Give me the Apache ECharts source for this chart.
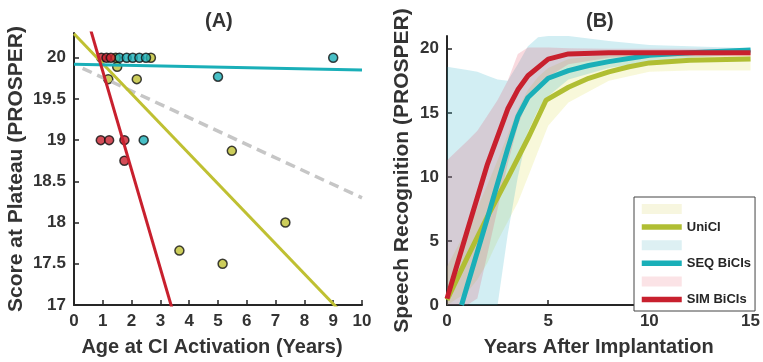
<!DOCTYPE html>
<html><head><meta charset="utf-8">
<script src="https://cdn.jsdelivr.net/npm/echarts@6/dist/echarts.min.js"></script>
<style>html,body{margin:0;padding:0;background:#fff}#c{width:763px;height:362px}</style>
</head><body><div id="c"></div>
<script>
// ---------- Panel A: scatter data ----------
const uniAge   = [1.45, 1.5, 2.67, 1.19, 2.18, 5.48, 3.66, 5.16, 7.34];
const uniScore = [20, 19.89, 20, 19.74, 19.74, 18.87, 17.66, 17.5, 18.0];
const seqAge   = [1.58, 1.83, 2.04, 2.27, 2.5, 5.0, 9.0, 2.42];
const seqScore = [20, 20, 20, 20, 20, 19.77, 20, 19.0];
const simAge   = [0.95, 1.13, 1.28, 0.93, 1.22, 1.75, 1.75];
const simScore = [20, 20, 20, 19, 19, 19, 18.75];
// regression fits (intercept, slope, x range)
const fitIntercepts = [20.29, 19.92, 21.03, 19.92];
const fitSlopes     = [-0.364, -0.007, -1.196, -0.162];
const fitStart      = [0, 0, 0, 0.3];
const fitEnd        = [10, 10, 10, 10];
const ticksAY = [17, 17.5, 18, 18.5, 19, 19.5, 20];

// ---------- Panel B: mean trajectories ----------
const uniX = [0, 1, 2, 3, 4, 4.9, 6, 7, 8, 9, 10, 12, 15];
const uniY = [0.4, 3.7, 6.9, 9.9, 13, 16, 17, 17.7, 18.2, 18.6, 18.9, 19.1, 19.2];
const seqX = [0.72, 1, 2, 3, 3.5, 4, 5, 6, 7, 8, 10, 12, 15];
const seqY = [0, 1.5, 6.8, 12.2, 14.7, 16.2, 17.7, 18.3, 18.7, 19.0, 19.5, 19.7, 19.9];
const simX = [0, 1, 2, 3, 3.5, 4, 5, 6, 8, 15];
const simY = [0.5, 5.8, 11, 15.3, 16.8, 17.9, 19.2, 19.6, 19.7, 19.7];
// bands
const bandX  = [0, 1, 1.5, 2, 2.5, 3, 3.5, 4, 4.5, 5, 6, 8, 10, 12, 15];
const uniLo  = [0, 1, 2, 3.3, 5, 6.5, 8, 10, 12, 14, 15.8, 17.5, 18.2, 18.3, 18.3];
const uniHi  = [3, 6, 7.6, 9.4, 11.3, 13.3, 15.3, 16.8, 17.8, 18.5, 19.2, 19.6, 19.7, 19.7, 19.7];
const seqLo  = [0, 0, 0, 0, 0, 5.5, 10, 13.5, 15.2, 16.3, 17.6, 18.5, 19, 19.3, 19.6];
const seqHi  = [18.6, 18.35, 18.2, 17.9, 17.6, 17.5, 18.8, 20.2, 20.9, 21, 21, 20.6, 20.3, 20.2, 20.05];
const simLo  = [0, 0, 0.5, 4, 7.5, 11, 14, 16, 17, 17.8, 18.8, 19.3, 19.4, 19.4, 19.4];
const simHi  = [11.3, 12.8, 13.6, 14.8, 16, 17.5, 19.6, 20.1, 20.1, 20.1, 20.05, 20, 20, 20, 20];

const FONT = 'Liberation Sans, Arial, sans-serif';
const INK = '#262626';
const YEL = '#BFC032', YELB = '#B0BE33', TEAL = '#1AAFB8', RED = '#C8202E';

const zip = (xs, ys) => xs.map((x, i) => [x, ys[i]]);
const fitLine = i => [[fitStart[i], fitIntercepts[i] + fitSlopes[i] * fitStart[i]],
                      [fitEnd[i], fitIntercepts[i] + fitSlopes[i] * fitEnd[i]]];

function axisCommon(extra) {
  return Object.assign({
    type: 'value',
    splitLine: { show: false },
    axisLine: { show: true, onZero: false, lineStyle: { color: INK, width: 2 } },
    axisTick: { show: true, inside: true, length: 5, lineStyle: { color: INK, width: 1.5 } },
    axisLabel: { color: '#333', fontWeight: 'bold', fontSize: 17, fontFamily: FONT, margin: 8 },
    nameLocation: 'middle',
    nameTextStyle: { color: '#333', fontWeight: 'bold', fontSize: 20, fontFamily: FONT }
  }, extra);
}

const scatterStyle = c => ({ color: c, borderColor: '#111', borderWidth: 1.5 });

function band(name, lo, hi, color) {
  return {
    type: 'custom', name: name, xAxisIndex: 1, yAxisIndex: 1, silent: true, z: 1,
    data: bandX.map((x, i) => [x, lo[i], hi[i]]),
    encode: { x: 0, y: [1, 2] },
    itemStyle: { color: color },
    renderItem: (params, api) => {
      if (params.dataIndexInside !== 0) return null;
      const top = [], bot = [];
      for (let i = 0; i < params.dataInsideLength; i++) {
        top.push(api.coord([api.value(0, i), api.value(2, i)]));
        bot.push(api.coord([api.value(0, i), api.value(1, i)]));
      }
      return { type: 'polygon', shape: { points: top.concat(bot.reverse()) }, style: { fill: color } };
    }
  };
}

const option = {
  animation: false,
  backgroundColor: '#fff',
  title: [
    { text: '(A)', left: 200, top: 6, textStyle: { fontSize: 20, fontWeight: 'bold', color: '#333', fontFamily: FONT } },
    { text: '(B)', left: 581, top: 6, textStyle: { fontSize: 20, fontWeight: 'bold', color: '#333', fontFamily: FONT } }
  ],
  grid: [
    { left: 74, top: 33, width: 288, height: 277, containLabel: false },
    { left: 447, top: 36, width: 306, height: 274, containLabel: false }
  ],
  xAxis: [
    axisCommon({ gridIndex: 0, min: 0, max: 10, interval: 1, name: 'Age at CI Activation (Years)', nameGap: 32,
      nameTextStyle: { color: '#333', fontWeight: 'bold', fontSize: 20, fontFamily: FONT, padding: [0, 12, 0, 0] } }),
    axisCommon({ gridIndex: 1, min: 0, max: 15, interval: 5, name: 'Years After Implantation', nameGap: 32 })
  ],
  yAxis: [
    axisCommon({ gridIndex: 0, min: 17, max: 20.3, interval: 0.5, name: 'Score at Plateau (PROSPER)', nameGap: 47,
      nameTextStyle: { color: '#333', fontWeight: 'bold', fontSize: 21, fontFamily: FONT },
      axisLabel: { color: '#333', fontWeight: 'bold', fontSize: 17, fontFamily: FONT, margin: 8, showMaxLabel: false,
        formatter: v => ticksAY.includes(v) ? String(v) : '' } }),
    axisCommon({ gridIndex: 1, min: 0, max: 21, interval: 5, name: 'Speech Recognition (PROSPER)', nameGap: 34,
      nameTextStyle: { color: '#333', fontWeight: 'bold', fontSize: 21, fontFamily: FONT },
      axisLabel: { color: '#333', fontWeight: 'bold', fontSize: 17, fontFamily: FONT, margin: 8, showMaxLabel: false,
        formatter: v => (v % 5 === 0 ? String(v) : '') } })
  ],
  legend: {
    orient: 'vertical', left: 634, top: 197,
    padding: [7, 4, 5, 5],
    backgroundColor: '#fff', borderColor: '#444', borderWidth: 1,
    itemWidth: 40, itemHeight: 10, itemGap: 6.6, itemTextGap: 3,
    selectedMode: false,
    textStyle: { color: INK, fontWeight: 'bold', fontSize: 13, fontFamily: FONT, lineHeight: 10 },
    formatter: n => n.endsWith(' band') ? '' : n,
    data: [
      { name: 'UniCI band', icon: 'rect', itemStyle: { color: '#F7F6DF' } },
      { name: 'UniCI', itemStyle: { opacity: 0 }, lineStyle: { width: 5.5, color: YELB } },
      { name: 'SEQ band', icon: 'rect', itemStyle: { color: '#DDF0F3' } },
      { name: 'SEQ BiCIs', itemStyle: { opacity: 0 }, lineStyle: { width: 5.5, color: TEAL } },
      { name: 'SIM band', icon: 'rect', itemStyle: { color: '#FBE3E6' } },
      { name: 'SIM BiCIs', itemStyle: { opacity: 0 }, lineStyle: { width: 5.5, color: RED } }
    ]
  },
  series: [
    // Panel A
    { type: 'scatter', name: 'A UniCI', xAxisIndex: 0, yAxisIndex: 0, symbolSize: 9, data: zip(uniAge, uniScore), itemStyle: scatterStyle(YEL), z: 3 },
    { type: 'scatter', name: 'A SEQ', xAxisIndex: 0, yAxisIndex: 0, symbolSize: 9, data: zip(seqAge, seqScore), itemStyle: scatterStyle(TEAL), z: 3 },
    { type: 'scatter', name: 'A SIM', xAxisIndex: 0, yAxisIndex: 0, symbolSize: 9, data: zip(simAge, simScore), itemStyle: scatterStyle(RED), z: 3 },
    { type: 'line', name: 'fit all', xAxisIndex: 0, yAxisIndex: 0, symbol: 'none', data: fitLine(3), clip: true,
      lineStyle: { color: '#C6C6C6', width: 3.5, type: [10, 6] }, z: 4 },
    { type: 'line', name: 'fit uni', xAxisIndex: 0, yAxisIndex: 0, symbol: 'none', data: fitLine(0), clip: true,
      lineStyle: { color: YEL, width: 3 }, z: 4 },
    { type: 'line', name: 'fit seq', xAxisIndex: 0, yAxisIndex: 0, symbol: 'none', data: fitLine(1), clip: true,
      lineStyle: { color: TEAL, width: 3 }, z: 4 },
    { type: 'line', name: 'fit sim', xAxisIndex: 0, yAxisIndex: 0, symbol: 'none', data: fitLine(2), clip: true,
      lineStyle: { color: RED, width: 3 }, z: 4 },
    // Panel B bands
    band('UniCI band', uniLo, uniHi, 'rgba(222,222,70,0.2)'),
    band('SEQ band', seqLo, seqHi, 'rgba(30,170,195,0.2)'),
    band('SIM band', simLo, simHi, 'rgba(225,70,95,0.2)'),
    // Panel B means
    { type: 'line', name: 'UniCI', xAxisIndex: 1, yAxisIndex: 1, symbol: 'none', data: zip(uniX, uniY), clip: true,
      itemStyle: { color: YELB }, lineStyle: { color: YELB, width: 5 }, z: 5 },
    { type: 'line', name: 'SEQ BiCIs', xAxisIndex: 1, yAxisIndex: 1, symbol: 'none', data: zip(seqX, seqY), clip: true,
      itemStyle: { color: TEAL }, lineStyle: { color: TEAL, width: 5 }, z: 5 },
    { type: 'line', name: 'SIM BiCIs', xAxisIndex: 1, yAxisIndex: 1, symbol: 'none', data: zip(simX, simY), clip: true,
      itemStyle: { color: RED }, lineStyle: { color: RED, width: 5 }, z: 5 }
  ]
};
echarts.init(document.getElementById('c'), null, { renderer: 'canvas' }).setOption(option);
</script></body></html>
